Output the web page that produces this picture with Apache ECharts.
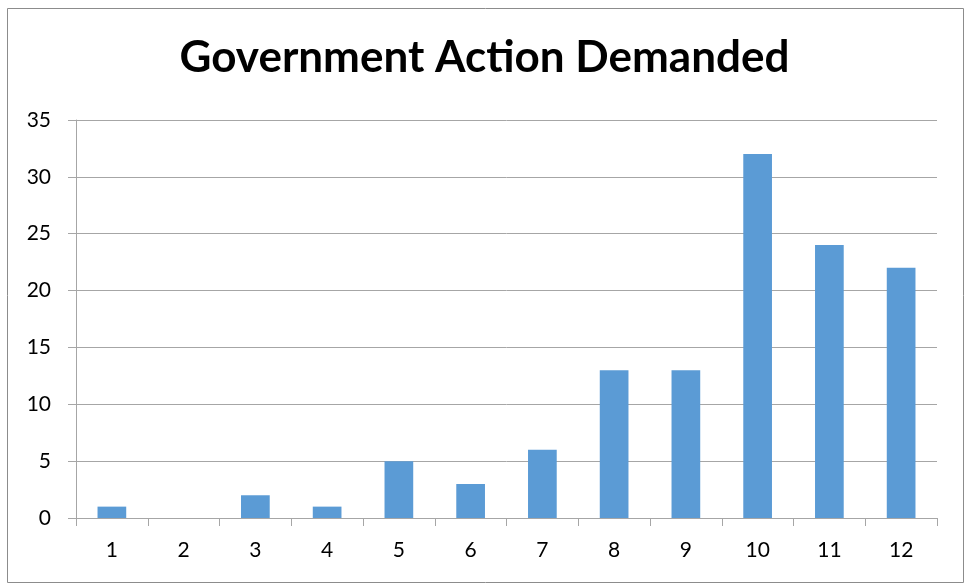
<!DOCTYPE html>
<html>
<head>
<meta charset="utf-8">
<script src="https://cdn.jsdelivr.net/npm/echarts@6/dist/echarts.min.js"></script>
<style>html,body{margin:0;padding:0;background:#fff;}#c{width:969px;height:587px;}</style>
</head>
<body>
<div id="c"></div>
<script>
const titleText = 'Government Action Demanded';
const categories = ['1','2','3','4','5','6','7','8','9','10','11','12'];
const values = [1, 0, 2, 1, 5, 3, 6, 13, 13, 32, 24, 22];
const yTicks = [0, 5, 10, 15, 20, 25, 30, 35];

const chart = echarts.init(document.getElementById('c'));
chart.setOption({
  animation: false,
  backgroundColor: '#fff',
  title: {
    text: titleText,
    left: 'center',
    top: 31,
    textStyle: { fontFamily: 'Lato', fontWeight: 'bold', fontSize: 44, color: '#000' }
  },
  graphic: [{
    type: 'rect',
    shape: { x: 7.5, y: 8.5, width: 956, height: 574 },
    style: { fill: 'none', stroke: '#8c8c8c', lineWidth: 1 },
    silent: true
  }],
  grid: { left: 76, right: 32, top: 120, bottom: 69, containLabel: false },
  xAxis: {
    type: 'category',
    data: categories,
    boundaryGap: true,
    axisLine: { lineStyle: { color: '#a6a6a6', width: 1 } },
    axisTick: { show: true, length: 8, alignWithLabel: false, lineStyle: { color: '#a6a6a6' } },
    axisLabel: { fontFamily: 'Lato', fontSize: 21, color: '#000', margin: 22 },
    splitLine: { show: false }
  },
  yAxis: {
    type: 'value',
    min: yTicks[0],
    max: yTicks[yTicks.length - 1],
    interval: 5,
    axisLine: { show: true, lineStyle: { color: '#a6a6a6', width: 1 } },
    axisTick: { show: true, length: 8, lineStyle: { color: '#a6a6a6' } },
    axisLabel: { fontFamily: 'Lato', fontSize: 21, color: '#000', margin: 25 },
    splitLine: { show: true, lineStyle: { color: '#a6a6a6', width: 1 } }
  },
  series: [{
    type: 'bar',
    data: values,
    barWidth: '40%',
    itemStyle: { color: '#5b9bd5' }
  }]
});
</script>
</body>
</html>
